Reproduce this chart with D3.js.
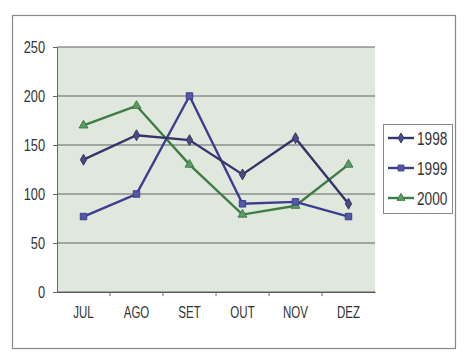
<!DOCTYPE html>
<html>
<head>
<meta charset="utf-8">
<script src="https://cdn.jsdelivr.net/npm/d3@7"></script>
<style>
  body { margin: 0; background: #fff; }
  svg text { font-family: "Liberation Sans", Arial, sans-serif; fill: #333; }
</style>
</head>
<body>
<svg id="chart"></svg>
<script>
const months = ["JUL", "AGO", "SET", "OUT", "NOV", "DEZ"];
const values1998 = [135, 160, 155, 120, 157, 90];
const values1999 = [77, 100, 200, 90, 92, 77];
const values2000 = [170, 190, 130, 79, 88, 130];
const yTicks = [0, 50, 100, 150, 200, 250];

const series = [
    { name: "1998", values: values1998, color: "#34366a", fill: "#4a4c80", symbol: d3.symbolDiamond },
    { name: "1999", values: values1999, color: "#3b3e8e", fill: "#5558a4", symbol: d3.symbolSquare },
    { name: "2000", values: values2000, color: "#3d7d45", fill: "#5e9a66", symbol: d3.symbolTriangle }
];

const width = 474, height = 364;
const margin = {top: 47, right: 99, bottom: 72, left: 57};
const plotW = width - margin.left - margin.right,
    plotH = height - margin.top - margin.bottom;

// squeeze text horizontally to look like the narrow font of the original
function narrow(sel, sx) {
    sel.each(function() {
        const t = d3.select(this);
        const x = +t.attr("x") || 0, y = +t.attr("y") || 0;
        t.attr("x", 0).attr("y", 0)
            .attr("transform", `translate(${x}, ${y}) scale(${sx}, 1)`);
    });
}

const svg = d3.select("#chart")
    .attr("width", width)
    .attr("height", height);

// outer frame
svg.append("rect")
    .attr("x", 12.5).attr("y", 15.5)
    .attr("width", 443).attr("height", 333)
    .attr("fill", "none")
    .attr("stroke", "#888")
    .attr("stroke-width", 1.2);

const g = svg.append("g")
    .attr("transform", `translate(${margin.left}, ${margin.top})`);

var xScale = d3.scaleBand()
    .domain(months)
    .range([0, plotW]);

var yScale = d3.scaleLinear()
    .domain([0, 250])
    .range([plotH, 0]);

// plot background
g.append("rect")
    .attr("width", plotW)
    .attr("height", plotH)
    .attr("fill", "#e0e7dd");

// gridlines
g.selectAll(".grid")
    .data(yTicks)
    .enter()
    .append("line")
    .attr("class", "grid")
    .attr("x1", 0).attr("x2", plotW)
    .attr("y1", d => yScale(d)).attr("y2", d => yScale(d))
    .attr("stroke", "#626262")
    .attr("stroke-width", 1);

// Y axis
const yAxis = d3.axisLeft(yScale).tickValues(yTicks).tickSize(4).tickPadding(8);
g.append("g")
    .call(yAxis)
    .call(a => a.select(".domain").attr("stroke", "#666"))
    .call(a => a.selectAll("line").attr("stroke", "#666"))
    .selectAll("text")
        .style("font-size", "16px")
        .attr("fill", "#444")
        .call(narrow, 0.8);

// X axis, ticks sit between the categories
const xAxis = d3.axisBottom(xScale).tickSize(0).tickPadding(15);
const xg = g.append("g")
    .attr("transform", `translate(0, ${plotH})`)
    .call(xAxis);
xg.select(".domain").attr("stroke", "#555");
xg.selectAll("text")
    .style("font-size", "16px")
    .attr("fill", "#444")
    .call(narrow, 0.72);
xg.selectAll(".sep")
    .data(months.slice(1))
    .enter()
    .append("line")
    .attr("class", "sep")
    .attr("x1", d => xScale(d)).attr("x2", d => xScale(d))
    .attr("y1", 0).attr("y2", 4)
    .attr("stroke", "#666");

const line = d3.line()
    .x((d, i) => xScale(months[i]) + xScale.bandwidth() / 2)
    .y(d => yScale(d));

// draw 2000 first so the blue lines stay on top
series.slice().reverse().forEach(s => {
    g.append("path")
        .datum(s.values)
        .attr("fill", "none")
        .attr("stroke", s.color)
        .attr("stroke-width", 2.4)
        .attr("d", line);

    g.selectAll(".pt" + s.name)
        .data(s.values)
        .enter()
        .append("path")
        .attr("transform", (d, i) => `translate(${xScale(months[i]) + xScale.bandwidth() / 2}, ${yScale(d)})`)
        .attr("d", d3.symbol().type(s.symbol).size(s.symbol === d3.symbolSquare ? 42 : 34))
        .attr("fill", s.fill)
        .attr("stroke", s.color)
        .attr("stroke-width", 1);
});

// Legend
const legend = svg.append("g").attr("transform", "translate(383, 124)");
legend.append("rect")
    .attr("x", 0.5).attr("y", 0.5)
    .attr("width", 69).attr("height", 89)
    .attr("fill", "#fff")
    .attr("stroke", "#888");

series.forEach((s, i) => {
    const row = legend.append("g").attr("transform", `translate(0, ${14 + i * 30})`);
    row.append("line")
        .attr("x1", 5).attr("x2", 31)
        .attr("y1", 0).attr("y2", 0)
        .attr("stroke", s.color)
        .attr("stroke-width", 2.4);
    row.append("path")
        .attr("transform", "translate(18, 0)")
        .attr("d", d3.symbol().type(s.symbol).size(s.symbol === d3.symbolSquare ? 34 : 28))
        .attr("fill", s.fill)
        .attr("stroke", s.color);
    row.append("text")
        .attr("x", 34)
        .attr("y", 7)
        .style("font-size", "19px")
        .attr("fill", "#333")
        .text(s.name)
        .call(narrow, 0.72);
});
</script>
</body>
</html>
